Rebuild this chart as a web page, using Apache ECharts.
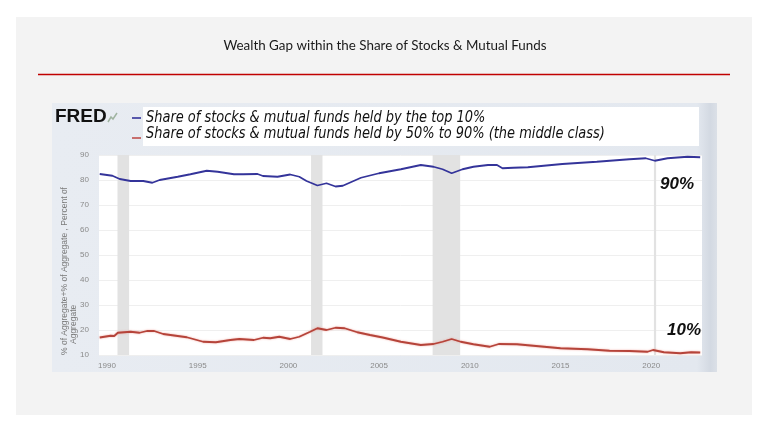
<!DOCTYPE html>
<html>
<head>
<meta charset="utf-8">
<script src="https://cdn.jsdelivr.net/npm/echarts@6/dist/echarts.min.js"></script>
<style>
html,body{margin:0;padding:0;background:#fff;}
#c{width:768px;height:432px;}
</style>
</head>
<body>
<div id="c"></div>
<script>
// ---- Data ----
const xTickLabels = [1990, 1995, 2000, 2005, 2010, 2015, 2020];
const yTickMin = 10, yTickMax = 90, yTickStep = 10;

const topYears = [1989.6,1990.3,1990.7,1991.3,1992.0,1992.5,1992.9,1993.9,1994.6,1995.5,1996.1,1997.0,1997.5,1998.3,1998.6,1999.4,2000.1,2000.6,2001.0,2001.6,2002.1,2002.6,2003.0,2004.0,2005.0,2006.2,2007.3,2008.0,2008.5,2009.0,2009.6,2010.2,2011.0,2011.5,2011.8,2012.4,2013.2,2015.1,2017.0,2018.8,2019.7,2020.2,2020.9,2022.0,2022.7];
const topValues = [82.4,81.7,80.4,79.6,79.6,78.9,80.0,81.3,82.3,83.7,83.3,82.3,82.3,82.4,81.6,81.3,82.2,81.3,79.6,77.8,78.7,77.4,77.7,80.9,82.7,84.3,86.0,85.3,84.3,82.7,84.3,85.3,86.0,86.0,84.7,84.9,85.1,86.4,87.3,88.3,88.7,87.7,88.7,89.3,89.1];

const midYears = [1989.6,1990.2,1990.4,1990.6,1991.3,1991.8,1992.2,1992.6,1993.1,1993.9,1994.4,1995.3,1996.0,1996.8,1997.3,1998.1,1998.6,1999.0,1999.5,2000.1,2000.6,2001.2,2001.6,2002.1,2002.6,2003.1,2003.8,2004.5,2005.2,2006.2,2007.3,2008.0,2008.5,2009.0,2009.5,2010.2,2011.1,2011.6,2012.6,2013.5,2015.0,2016.5,2017.7,2018.8,2019.8,2020.1,2020.7,2021.6,2022.2,2022.7];
const midValues = [17.0,17.7,17.6,18.9,19.3,18.9,19.6,19.6,18.4,17.6,17.1,15.3,15.1,16.0,16.4,16.0,16.9,16.7,17.3,16.4,17.3,19.3,20.7,20.0,20.9,20.7,19.1,18.0,17.0,15.3,14.0,14.4,15.3,16.4,15.3,14.3,13.3,14.4,14.3,13.7,12.7,12.3,11.7,11.6,11.3,12.0,11.1,10.7,11.1,11.0];

const recessionStarts = [1990.58, 2001.25, 2007.95, 2020.15];
const recessionEnds   = [1991.22, 2001.88, 2009.47, 2020.27];

const titleText = 'Wealth Gap within the Share of Stocks & Mutual Funds';
const legendTop = 'Share of stocks & mutual funds held by the top 10%';
const legendMid = 'Share of stocks & mutual funds held by 50% to 90% (the middle class)';
const yName1 = '% of Aggregate+% of Aggregate , Percent of';
const yName2 = 'Aggregate';

// ---- Build ----
const topData = topYears.map((y, i) => [y, topValues[i]]);
const midData = midYears.map((y, i) => [y, midValues[i]]);
const bands = recessionStarts.map((s, i) => [{xAxis: s}, {xAxis: recessionEnds[i]}]);

const chart = echarts.init(document.getElementById('c'), null, {renderer: 'canvas'});
const narrow = '"Liberation Sans Narrow","DejaVu Sans Condensed","Liberation Sans",sans-serif';

function txt(x, y, text, font, fill, align, valign, extra) {
  return Object.assign({
    type: 'text', x: x, y: y, z: 20,
    style: {text: text, font: font, fill: fill, align: align, textAlign: align,
            verticalAlign: valign, textVerticalAlign: valign}
  }, extra || {});
}

const option = {
  animation: false,
  backgroundColor: '#ffffff',
  grid: {left: 99, top: 155, right: 66, bottom: 77, show: false},
  xAxis: {
    type: 'value', min: 1989.56, max: 2022.8,
    axisLine: {show: false}, axisTick: {show: false}, splitLine: {show: false},
    axisLabel: {customValues: xTickLabels, color: '#8a8a8a', fontSize: 8, margin: 7,
                fontFamily: 'Liberation Sans, sans-serif',
                formatter: function (v) { return String(Math.round(v)); }}
  },
  yAxis: {
    type: 'value', min: yTickMin, max: yTickMax, interval: yTickStep,
    axisLine: {show: false}, axisTick: {show: false},
    splitLine: {lineStyle: {color: '#efefef', width: 1}},
    axisLabel: {color: '#8a8a8a', fontSize: 8, margin: 10, fontFamily: 'Liberation Sans, sans-serif'}
  },
  series: [
    {
      type: 'line', data: topData, showSymbol: false, symbol: 'none', z: 5,
      lineStyle: {color: '#34349a', width: 1.8},
      markArea: {silent: true, itemStyle: {color: '#e2e2e2'}, data: bands}
    },
    {
      type: 'line', data: midData, showSymbol: false, symbol: 'none', z: 5,
      lineStyle: {color: '#b5443a', width: 1.8, shadowColor: 'rgba(235,130,120,0.7)', shadowBlur: 2}
    }
  ],
  graphic: [
    {type: 'rect', z: -100, shape: {x: 16, y: 17, width: 736, height: 398}, style: {fill: '#f3f3f3'}},
    txt(385, 46, titleText, '13.4px Lato, "Open Sans", sans-serif', '#1a1a1a', 'center', 'middle'),
    {type: 'line', z: 5, shape: {x1: 38, y1: 74.5, x2: 730, y2: 74.5}, style: {stroke: '#c00000', lineWidth: 1.5}},
    {type: 'rect', z: -90, shape: {x: 52, y: 103, width: 665, height: 269},
     style: {fill: new echarts.graphic.LinearGradient(0, 0, 1, 0, [
       {offset: 0, color: '#e8ecf2'}, {offset: 0.97, color: '#e3e8ef'},
       {offset: 0.99, color: '#d3d9e2'}, {offset: 1, color: '#dbe0e7'}])}},
    {type: 'rect', z: -80, shape: {x: 99, y: 155, width: 603, height: 200}, style: {fill: '#ffffff'}},
    {type: 'rect', z: -80, shape: {x: 143, y: 107, width: 556, height: 39}, style: {fill: '#ffffff'}},
    txt(55, 117, 'FRED', 'bold 19px "Liberation Sans", Arial, sans-serif', '#111', 'left', 'middle'),
    {type: 'polyline', z: 20, shape: {points: [[108, 122], [111, 117], [113, 119], [117, 113]]},
     style: {stroke: '#9fb3a0', lineWidth: 1.5, fill: null}},
    {type: 'line', z: 20, shape: {x1: 132, y1: 118, x2: 141, y2: 118}, style: {stroke: '#34349a', lineWidth: 1.6}},
    {type: 'line', z: 20, shape: {x1: 132, y1: 138, x2: 141, y2: 138}, style: {stroke: '#c0504d', lineWidth: 1.6}},
    txt(146, 118, legendTop, 'italic 16px ' + narrow, '#111', 'left', 'middle', {scaleX: 0.9}),
    txt(146, 134, legendMid, 'italic 16px ' + narrow, '#111', 'left', 'middle', {scaleX: 0.9}),
    txt(65, 355, yName1, '8.5px "Liberation Sans", sans-serif', '#7a7a7a', 'left', 'middle', {rotation: Math.PI / 2}),
    txt(74, 344, yName2, '8.5px "Liberation Sans", sans-serif', '#7a7a7a', 'left', 'middle', {rotation: Math.PI / 2}),
    txt(677, 184, '90%', 'italic bold 17px "Liberation Sans", Arial, sans-serif', '#111', 'center', 'middle'),
    txt(684, 330, '10%', 'italic bold 17px "Liberation Sans", Arial, sans-serif', '#111', 'center', 'middle')
  ]
};
chart.setOption(option);
</script>
</body>
</html>
